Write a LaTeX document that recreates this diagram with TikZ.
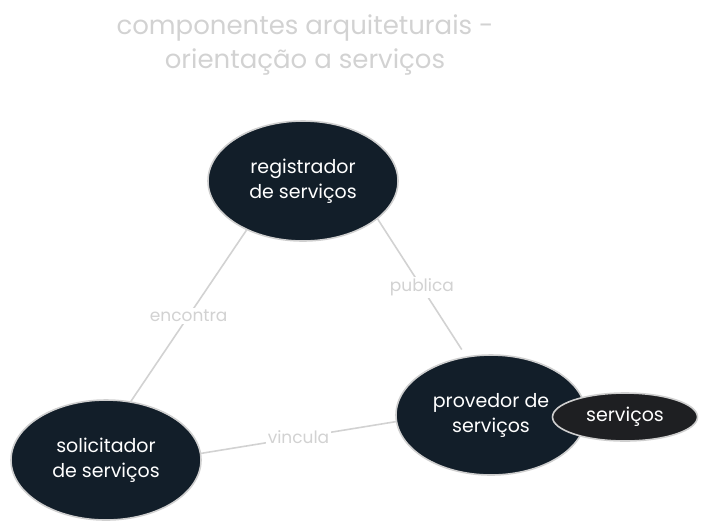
\documentclass[tikz,border=0pt]{standalone}
\usepackage{fontspec}
\setmainfont{Poppins}
\usetikzlibrary{shapes.geometric}

\definecolor{fundo}{HTML}{121E29}
\definecolor{fundoserv}{HTML}{1E1F22}
\definecolor{cinza}{HTML}{D2D2D2}
\definecolor{borda}{HTML}{CFCFCF}

\begin{document}
\begin{tikzpicture}[x=1pt,y=-1pt,
		papel/.style={ellipse,draw=borda,line width=1.6pt,fill=fundo,text=white,
			minimum width=190pt,minimum height=120pt,inner sep=0pt,align=center,
			font=\fontsize{19}{25}\selectfont},
		servico/.style={papel,fill=fundoserv,minimum width=145pt,minimum height=48pt},
		titulo/.style={text=cinza,align=center,font=\fontsize{26}{34}\selectfont},
		ligacao/.style={draw=cinza,line width=1.6pt},
		rotulo/.style={fill=white,text=cinza,inner sep=2pt,font=\fontsize{17}{20}\selectfont}]
				\useasboundingbox (0,0) rectangle (708,531);
				\node[titulo] (titulo) at (305,45) {componentes arquiteturais -\\orientação a serviços};
				\node[papel] (reg) at (303,181) {registrador\\de serviços};
				\node[papel] (prov) at (491,415) {provedor de\\serviços};
				\node[servico] (serv) at (625,417) {serviços};
				\node[papel] (sol) at (106,460) {solicitador\\de serviços};
				\draw[ligacao] (reg.221) to node[rotulo]{encontra}(sol.67);
				\draw[ligacao,shorten >=8pt] (reg.333) to node[rotulo]{publica}(prov.113);
				\draw[ligacao] (sol.4) to node[rotulo]{vincula}(prov.184);
			\end{tikzpicture}
\end{document}
